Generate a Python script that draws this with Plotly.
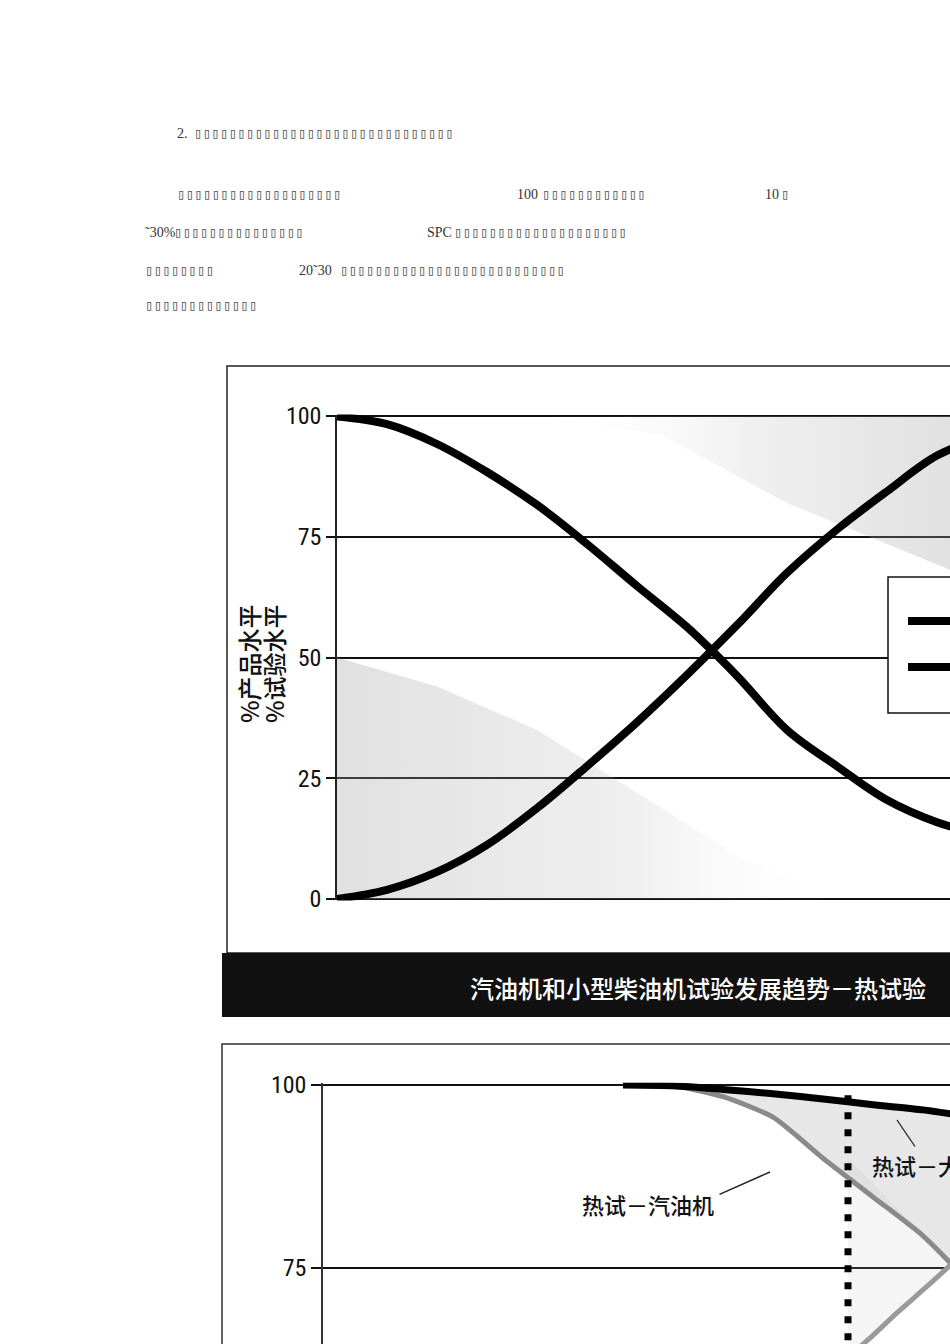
import plotly.graph_objects as go

W, H = 950, 1344

# ---------------- data ----------------
# upper chart (x = time steps)
x_top = [0, 1, 2, 3, 4, 5, 6, 7, 8, 9, 10, 11, 12, 13]
falling_level = [99.9, 98.3, 94.2, 88.4, 81.6, 73.5, 64.8, 56.3, 46.2, 35.0, 27.5, 20.5, 15.9, 13.0]
rising_level = [0.0, 1.9, 5.6, 11.2, 18.8, 27.5, 36.6, 46.4, 56.7, 67.5, 76.5, 84.4, 91.8, 96.0]
top_ticks = [0, 25, 50, 75, 100]

# lower chart
x_bot = [6, 7, 8, 9, 10, 11, 12, 13]
hot_large = [100.0, 99.9, 99.4, 98.8, 98.1, 97.3, 96.6, 95.6]
hot_gas = [100.0, 99.9, 98.4, 95.6, 90.0, 84.7, 79.4, 72.5]
x_cold = [10.5, 11, 11.5, 12, 12.5, 13]
cold_gas = [62.8, 65.8, 69.0, 72.0, 75.1, 78.5]
cutover_x = [10.5, 10.5]
cutover_y = [98.6, 55.0]
bot_ticks = [50, 75, 100]

title_top = "汽油机和小型柴油机试验发展趋势－热试验"
ytitle_1 = "%产品水平"
ytitle_2 = "%试验水平"
label_gas = "热试－汽油机"
label_large = "热试－大型柴油机"

# body text lines (missing-glyph boxes as in the scanned page)
B = "\u25af"
body_segments = [
    (175, 133, "2.", "n"), (192, 133, B * 30, "b"),
    (175, 194, B * 19, "b"), (515, 194, "100", "n"), (540, 194, B * 12, "b"),
    (763, 194, "10", "n"), (779, 194, B, "b"),
    (143, 232, "˜30%", "n"), (172, 232, B * 15, "b"),
    (425, 232, "SPC", "n"), (452, 232, B * 20, "b"),
    (143, 270, B * 8, "b"), (297, 270, "20˜30", "n"), (338, 270, B * 26, "b"),
    (143, 305, B * 13, "b"),
]


def fx(p):
    return p / W


def fy(p):
    return 1 - p / H


fig = go.Figure()

# ---------- upper chart shading (stippled background) ----------
fig.add_trace(go.Scatter(
    x=[0, 2, 4, 6, 8, 10, 0], y=[50, 44, 35, 22, 9, 0, 0], fill="toself", mode="none",
    fillgradient=dict(type="horizontal", colorscale=[[0, "rgba(160,160,160,0.32)"], [0.6, "rgba(170,170,170,0.18)"], [1, "rgba(255,255,255,0)"]]),
    xaxis="x", yaxis="y", showlegend=False, hoverinfo="skip"))
fig.add_trace(go.Scatter(
    x=[4.2, 12.3, 12.3, 9, 6.5, 4.2], y=[100, 100, 68, 82, 96, 100], fill="toself", mode="none",
    fillgradient=dict(type="horizontal", colorscale=[[0, "rgba(255,255,255,0)"], [0.5, "rgba(170,170,170,0.18)"], [1, "rgba(160,160,160,0.32)"]]),
    xaxis="x", yaxis="y", showlegend=False, hoverinfo="skip"))

fig.add_trace(go.Scatter(x=x_top, y=falling_level, mode="lines", line=dict(color="black", width=8, shape="spline", smoothing=1.0),
                         xaxis="x", yaxis="y", showlegend=False, name="falling"))
fig.add_trace(go.Scatter(x=x_top, y=rising_level, mode="lines", line=dict(color="black", width=8, shape="spline", smoothing=1.0),
                         xaxis="x", yaxis="y", showlegend=False, name="rising"))

# ---------- lower chart ----------
fig.add_trace(go.Scatter(x=x_bot, y=hot_gas, mode="lines", line=dict(color="rgba(0,0,0,0)", width=0),
                         xaxis="x2", yaxis="y2", showlegend=False, hoverinfo="skip"))
fig.add_trace(go.Scatter(x=x_bot, y=hot_large, mode="lines", line=dict(color="rgba(0,0,0,0)", width=0),
                         fill="tonexty", fillcolor="rgba(170,170,170,0.28)",
                         xaxis="x2", yaxis="y2", showlegend=False, hoverinfo="skip"))
fig.add_trace(go.Scatter(x=x_cold + [13, 10.5], y=cold_gas + [72.5, 90.0], fill="toself", mode="none",
                         fillcolor="rgba(190,190,190,0.15)",
                         xaxis="x2", yaxis="y2", showlegend=False, hoverinfo="skip"))
fig.add_trace(go.Scatter(x=x_bot, y=hot_gas, mode="lines", line=dict(color="#8a8a8a", width=5, shape="spline", smoothing=0.6),
                         xaxis="x2", yaxis="y2", showlegend=False, name=label_gas))
fig.add_trace(go.Scatter(x=x_cold, y=cold_gas, mode="lines", line=dict(color="#9a9a9a", width=5, shape="spline", smoothing=0.6),
                         xaxis="x2", yaxis="y2", showlegend=False, name="cold"))
fig.add_trace(go.Scatter(x=x_bot, y=hot_large, mode="lines", line=dict(color="black", width=7, shape="spline", smoothing=0.6),
                         xaxis="x2", yaxis="y2", showlegend=False, name=label_large))
fig.add_trace(go.Scatter(x=cutover_x, y=cutover_y, mode="lines", line=dict(color="black", width=7, dash="7px,10px"),
                         xaxis="x2", yaxis="y2", showlegend=False))

# ---------- axes ----------
tick_font = dict(family="Liberation Sans Narrow, Roboto Condensed, Liberation Sans, Arial", size=24, color="#111")
s_top = (899 - 416) / 100.0
pad = 0.3
fig.update_layout(
    xaxis=dict(domain=[fx(337), 1], range=[0, (950 - 337) / 50.0], showgrid=False, zeroline=False,
               showticklabels=False, showline=False, anchor="y", automargin=False),
    yaxis=dict(domain=[fy(899 + pad * s_top), fy(416 - pad * s_top)], range=[-pad, 100 + pad],
               tickvals=top_ticks, showgrid=True, gridcolor="#111", gridwidth=1.6, zeroline=False,
               showline=True, linecolor="#222", linewidth=1.5, ticks="outside", ticklen=9, tickwidth=1.5,
               tickcolor="#111", tickfont=tick_font, anchor="x", automargin=False),
)
s_bot = (1268 - 1085) / 25.0
bot_low = 100 + pad - (1344 - (1085 - pad * s_bot)) / s_bot
fig.update_layout(
    xaxis2=dict(domain=[fx(323), 1], range=[0, (950 - 323) / 50.0], showgrid=False, zeroline=False,
                showticklabels=False, showline=False, anchor="y2", automargin=False),
    yaxis2=dict(domain=[0, fy(1085 - pad * s_bot)], range=[bot_low, 100 + pad],
                tickvals=bot_ticks, showgrid=True, gridcolor="#111", gridwidth=1.6, zeroline=False,
                showline=True, linecolor="#333", linewidth=1.5, ticks="outside", ticklen=10, tickwidth=1.5,
                tickcolor="#111", tickfont=tick_font, anchor="x2", automargin=False),
)

# ---------- frames, title bar, legend box ----------
shapes = [
    dict(type="rect", xref="paper", yref="paper", x0=fx(227), x1=1.05, y0=fy(953), y1=fy(366),
         line=dict(color="#222", width=1.5), fillcolor="rgba(0,0,0,0)", layer="below"),
    dict(type="rect", xref="paper", yref="paper", x0=fx(222), x1=1.05, y0=fy(1017), y1=fy(953),
         line=dict(color="#111", width=0), fillcolor="#111"),
    dict(type="rect", xref="paper", yref="paper", x0=fx(222), x1=1.05, y0=-0.05, y1=fy(1044),
         line=dict(color="#333", width=1.5), fillcolor="rgba(0,0,0,0)", layer="below"),
    # legend box
    dict(type="rect", xref="paper", yref="paper", x0=fx(888), x1=1.05, y0=fy(713), y1=fy(577),
         line=dict(color="#111", width=1.5), fillcolor="white"),
    dict(type="line", xref="paper", yref="paper", x0=fx(908), x1=1.05, y0=fy(621), y1=fy(621),
         line=dict(color="black", width=8)),
    dict(type="line", xref="paper", yref="paper", x0=fx(908), x1=1.05, y0=fy(667), y1=fy(667),
         line=dict(color="black", width=8)),
]
fig.update_layout(shapes=shapes)

ann = []
ann.append(dict(xref="paper", yref="paper", x=fx(928), y=fy(987), text=title_top, showarrow=False,
                xanchor="right", yanchor="middle",
                font=dict(family="Noto Sans CJK SC", size=24, color="white", weight=500)))
ann.append(dict(xref="paper", yref="paper", x=fx(248), y=fy(664), text=ytitle_1, showarrow=False,
                textangle=-90, xanchor="center", yanchor="middle",
                font=dict(family="Noto Sans CJK SC", size=24, color="#111", weight=500)))
ann.append(dict(xref="paper", yref="paper", x=fx(273), y=fy(664), text=ytitle_2, showarrow=False,
                textangle=-90, xanchor="center", yanchor="middle",
                font=dict(family="Noto Sans CJK SC", size=24, color="#111", weight=500)))
# lower chart labels
ann.append(dict(xref="paper", yref="paper", x=fx(648), y=fy(1204), text=label_gas, showarrow=False,
                xanchor="center", yanchor="middle",
                font=dict(family="Noto Sans CJK SC", size=22, color="#111", weight=500)))
ann.append(dict(xref="paper", yref="paper", x=fx(770), y=fy(1172), text="", showarrow=True,
                arrowhead=0, arrowwidth=1.5, arrowcolor="#222", ax=-52, ay=23))
ann.append(dict(xref="paper", yref="paper", x=fx(870), y=fy(1165), text=label_large, showarrow=False,
                xanchor="left", yanchor="middle",
                font=dict(family="Noto Sans CJK SC", size=22, color="#111", weight=500)))
ann.append(dict(xref="paper", yref="paper", x=fx(897), y=fy(1120), text="", showarrow=True,
                arrowhead=0, arrowwidth=1.3, arrowcolor="#222", ax=19, ay=28))

for (x0, y0, t, kind) in body_segments:
    if kind == "b":
        font = dict(family="DejaVu Sans Mono", size=14.4, color="#555")
    else:
        font = dict(family="Liberation Serif", size=14, color="#333")
    ann.append(dict(xref="paper", yref="paper", x=fx(x0), y=fy(y0), text=t, showarrow=False,
                    xanchor="left", yanchor="middle", font=font))

fig.update_layout(annotations=ann)

fig.update_layout(width=W, height=H, margin=dict(l=0, r=0, t=0, b=0, pad=0),
                  paper_bgcolor="white", plot_bgcolor="rgba(0,0,0,0)", showlegend=False)

fig.write_html("out.html", config={"displayModeBar": False},
               post_script="document.body.style.margin='0px';")
